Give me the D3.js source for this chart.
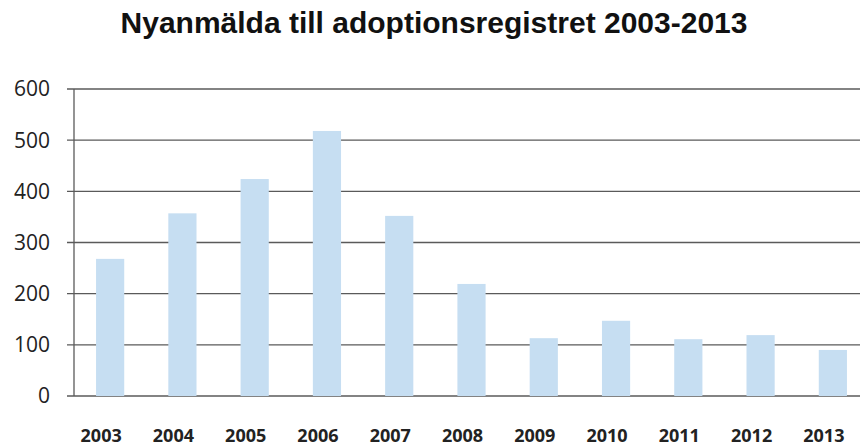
<html>
<head>
  <style>
    body {
      margin: 0;
      background: #ffffff;
    }
    .title {
      font-family: "Liberation Sans", Arial, sans-serif;
      font-weight: bold;
      font-size: 30px;
      fill: #111;
    }
    .ylab {
      font-family: "Open Sans", sans-serif;
      font-size: 21px;
      fill: #222;
    }
    .xlab {
      font-family: "Open Sans", sans-serif;
      font-weight: bold;
      font-size: 18px;
      fill: #222;
    }
  </style>
</head>
<body>
  <div id="chart"></div>

  <script src="https://d3js.org/d3.v7.min.js"></script>
  <script>
    var years = ["2003", "2004", "2005", "2006", "2007", "2008", "2009", "2010", "2011", "2012", "2013"];
    var counts = [268, 357, 424, 518, 352, 219, 113, 147, 111, 119, 90];
    var yTicks = [0, 100, 200, 300, 400, 500, 600];

    var width = 860,
        height = 448;

    var svg = d3.select("#chart")
      .append("svg")
      .attr("width", width)
      .attr("height", height);

    var x = d3.scaleBand()
      .domain(years)
      .range([74, 869])
      .paddingInner(0.61)
      .paddingOuter(0.305);

    var y = d3.scaleLinear()
      .domain([0, 600])
      .range([396, 89]);

    // title
    svg.append("text")
      .attr("class", "title")
      .attr("x", 434)
      .attr("y", 33)
      .attr("text-anchor", "middle")
      .text("Nyanmälda till adoptionsregistret 2003-2013");

    // gridlines
    svg.append("g")
      .selectAll("line")
      .data(yTicks)
      .enter().append("line")
      .attr("x1", 67)
      .attr("x2", width)
      .attr("y1", function (d) { return y(d); })
      .attr("y2", function (d) { return y(d); })
      .attr("stroke", "#5a5a5a")
      .attr("stroke-width", 1.3);

    // y labels
    svg.append("g")
      .selectAll("text")
      .data(yTicks)
      .enter().append("text")
      .attr("class", "ylab")
      .attr("x", 50)
      .attr("y", function (d) { return y(d); })
      .attr("dy", "0.35em")
      .attr("text-anchor", "end")
      .text(function (d) { return d; });

    // bars
    var data = years.map(function (yr, i) { return { year: yr, value: counts[i] }; });

    svg.append("g")
      .selectAll("rect")
      .data(data)
      .enter().append("rect")
      .attr("x", function (d) { return x(d.year); })
      .attr("width", x.bandwidth())
      .attr("y", function (d) { return y(d.value); })
      .attr("height", function (d) { return y(0) - y(d.value); })
      .attr("fill", "#c6def2");

    // y axis line
    svg.append("line")
      .attr("x1", 74).attr("x2", 74)
      .attr("y1", y(600)).attr("y2", y(0))
      .attr("stroke", "#5a5a5a")
      .attr("stroke-width", 1.3);

    // x labels
    svg.append("g")
      .selectAll("text")
      .data(years)
      .enter().append("text")
      .attr("class", "xlab")
      .attr("x", function (d) { return x(d) + x.bandwidth() / 2 - 9; })
      .attr("y", 442)
      .attr("text-anchor", "middle")
      .text(function (d) { return d; });
  </script>
</body>
</html>
